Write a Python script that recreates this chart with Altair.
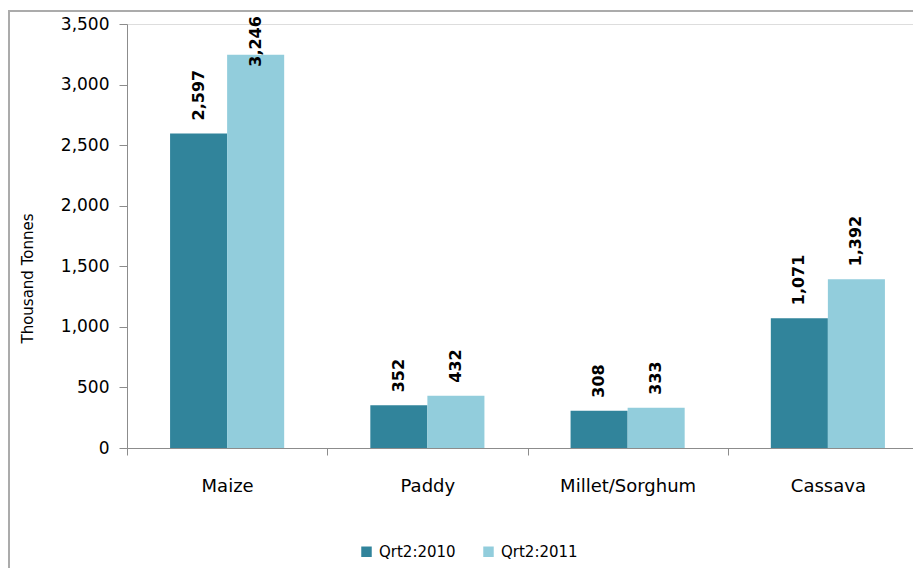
import altair as alt
import pandas as pd

categories = ["Maize", "Paddy", "Millet/Sorghum", "Cassava"]
series = ["Qrt2:2010", "Qrt2:2011"]
values_2010 = [2597, 352, 308, 1071]
values_2011 = [3246, 432, 333, 1392]
y_ticks = [0, 500, 1000, 1500, 2000, 2500, 3000, 3500]
colors = ["#31849B", "#92CDDC"]

rows = []
for c, a, b in zip(categories, values_2010, values_2011):
    rows.append({"Crop": c, "Series": series[0], "Value": a})
    rows.append({"Crop": c, "Series": series[1], "Value": b})
df = pd.DataFrame(rows)

FONT = "DejaVu Sans"


def x_scale():
    return alt.Scale(domain=categories, paddingInner=0, paddingOuter=0)


def off_scale():
    return alt.Scale(domain=series, paddingInner=0, paddingOuter=0.755)


x_axis = alt.Axis(
    title=None, labelAngle=0, labelFontSize=18, labelFont=FONT, labelColor="#000000",
    domainColor="#8c8c8c", tickColor="#8c8c8c", tickSize=7, tickBand="extent",
    labelPadding=22, grid=False,
)
y_enc = alt.Y(
    "Value:Q",
    scale=alt.Scale(domain=[0, 3500], nice=False),
    axis=alt.Axis(
        title="Thousand Tonnes", values=y_ticks, format=",.0f", labelFontSize=17, labelFont=FONT,
        labelColor="#000000", titleFont=FONT, titleFontSize=15, titleFontWeight="normal",
        titleColor="#000000", titleX=-100, titleY=254, titleAngle=-90, titleBaseline="middle",
        titleAlign="center",
        domainColor="#8c8c8c", tickColor="#8c8c8c", tickSize=8, labelPadding=10, grid=False,
    ),
)

bars = alt.Chart(df).mark_bar().encode(
    x=alt.X("Crop:N", sort=categories, scale=x_scale(), axis=x_axis),
    y=y_enc,
    xOffset=alt.XOffset("Series:N", sort=series, scale=off_scale()),
    color=alt.Color(
        "Series:N",
        sort=series,
        scale=alt.Scale(domain=series, range=colors),
        legend=alt.Legend(
            title=None, orient="none", direction="horizontal", legendX=232, legendY=520,
            symbolType="square", symbolSize=110, symbolStrokeWidth=0, labelFontSize=15,
            labelFont=FONT, labelColor="#000000", columnPadding=25, labelOffset=5,
        ),
    ),
)

labels = alt.Chart(df).transform_calculate(
    LabelPos="min(datum.Value, 3040)"
).mark_text(
    angle=270, align="left", baseline="middle", dx=13, fontSize=16, fontWeight="bold",
    font=FONT, color="#000000",
).encode(
    x=alt.X("Crop:N", sort=categories, scale=x_scale()),
    y=alt.Y("LabelPos:Q"),
    xOffset=alt.XOffset("Series:N", sort=series, scale=off_scale()),
    text=alt.Text("Value:Q", format=",.0f"),
)

frame = alt.Chart(pd.DataFrame({"a": [0]})).mark_rect(
    fill=None, stroke="#ababab", strokeWidth=2
).encode(
    x=alt.value(-118), x2=alt.value(900), y=alt.value(-13), y2=alt.value(700)
)

chart = alt.layer(frame, bars, labels).properties(
    width=801, height=424,
    autosize=alt.AutoSizeParams(type="none"),
    padding={"left": 119, "top": 16, "right": -15, "bottom": 120},
).configure_view(stroke=None).configure(background="#ffffff")

chart.save("out.html", embed_options={"renderer": "svg", "actions": False})
